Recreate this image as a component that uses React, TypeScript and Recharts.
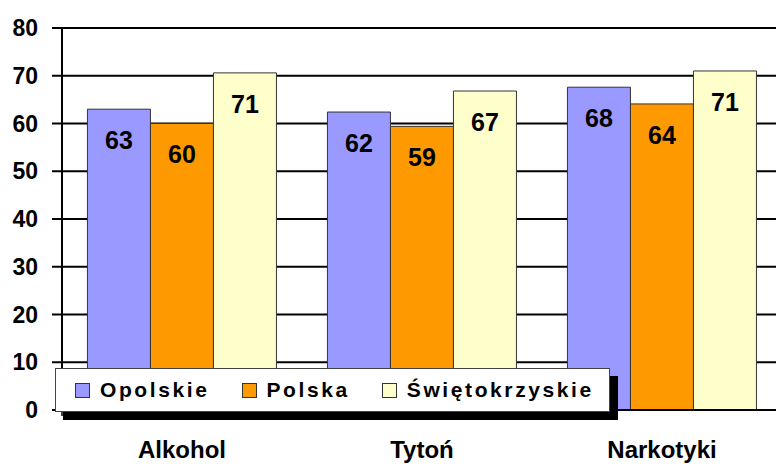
// Survey chart — three regions compared across alcohol, tobacco and drugs.
// Bars from the three value arrays, labels rounded the way the source shows them.

import { Bar, BarChart, CartesianGrid, LabelList, XAxis, YAxis } from "recharts";

const categories = ["Alkohol", "Tytoń", "Narkotyki"];
const opolskie = [63.0, 62.4, 67.6];
const polska = [60.0, 59.4, 64.1];
const swietokrzyskie = [70.6, 66.8, 71.0];
const yTicks = [0, 10, 20, 30, 40, 50, 60, 70, 80];

const SERIES = [
  { key: "opolskie", name: "Opolskie", color: "#9999FF" },
  { key: "polska", name: "Polska", color: "#FF9900" },
  { key: "swietokrzyskie", name: "Świętokrzyskie", color: "#FFFFCC" },
];

const FONT = "'Liberation Sans', Arial, sans-serif";

const data = categories.map((name, i) => ({
  name,
  opolskie: opolskie[i],
  polska: polska[i],
  swietokrzyskie: swietokrzyskie[i],
}));

// Category label plus the small tick at the band's left edge.
function CategoryTick(props: { x?: number; y?: number; payload?: { value: string } }) {
  const { x = 0, y = 0, payload } = props;
  return (
    <g>
      <line x1={x - 120} x2={x - 120} y1={y} y2={y + 6} stroke="#000" strokeWidth={1.5} />
      <text
        x={x}
        y={y + 31}
        dy="0.71em"
        textAnchor="middle"
        fill="#000"
        style={{ fontFamily: FONT, fontSize: 24, fontWeight: 700 }}
      >
        {payload?.value}
      </text>
    </g>
  );
}

function LegendBox() {
  return (
    <div
      style={{
        position: "absolute",
        left: 55,
        top: 368,
        width: 555,
        height: 44,
        boxSizing: "border-box",
        background: "#fff",
        border: "1px solid #444",
        boxShadow: "8px 8px 0 #000",
        display: "flex",
        alignItems: "center",
        paddingLeft: 19,
        fontFamily: FONT,
        fontSize: 21,
        fontWeight: 700,
        letterSpacing: 2.6,
        color: "#000",
      }}
    >
      {SERIES.map((s) => (
        <div key={s.key} style={{ display: "flex", alignItems: "center", marginRight: 32 }}>
          <span
            style={{
              width: 13,
              height: 13,
              background: s.color,
              border: "1px solid #333",
              marginRight: 10,
              display: "inline-block",
            }}
          />
          <span>{s.name}</span>
        </div>
      ))}
    </div>
  );
}

export default function App() {
  return (
    <div
      style={{
        position: "absolute",
        left: 0,
        top: 0,
        width: 776,
        height: 466,
        overflow: "hidden",
        background: "#fff",
      }}
    >
      <BarChart
        width={790}
        height={466}
        data={data}
        margin={{ top: 28, right: 8, bottom: 0, left: 0 }}
        barCategoryGap="10.6%"
        barGap={0}
      >
        <CartesianGrid vertical={false} stroke="#000" strokeWidth={2} />
        <XAxis
          dataKey="name"
          height={56}
          axisLine={{ stroke: "#000", strokeWidth: 2 }}
          tickLine={false}
          tickSize={0}
          tickMargin={0}
          tick={<CategoryTick />}
          interval={0}
        />
        <YAxis
          domain={[0, 80]}
          ticks={yTicks}
          width={62}
          axisLine={{ stroke: "#000", strokeWidth: 2 }}
          tickLine={{ stroke: "#000", strokeWidth: 2 }}
          tickSize={10}
          tickMargin={14}
          tick={{ fill: "#000", fontFamily: FONT, fontSize: 23, fontWeight: 700 }}
        />
        {SERIES.map((s) => (
          <Bar
            key={s.key}
            dataKey={s.key}
            name={s.name}
            fill={s.color}
            stroke="#333"
            strokeWidth={1}
            isAnimationActive={false}
          >
            <LabelList
              dataKey={s.key}
              position="insideTop"
              offset={22}
              formatter={(v: number) => Math.round(v)}
              fill="#000"
              style={{ fontFamily: FONT, fontSize: 25, fontWeight: 700 }}
            />
          </Bar>
        ))}
      </BarChart>
      <LegendBox />
    </div>
  );
}
